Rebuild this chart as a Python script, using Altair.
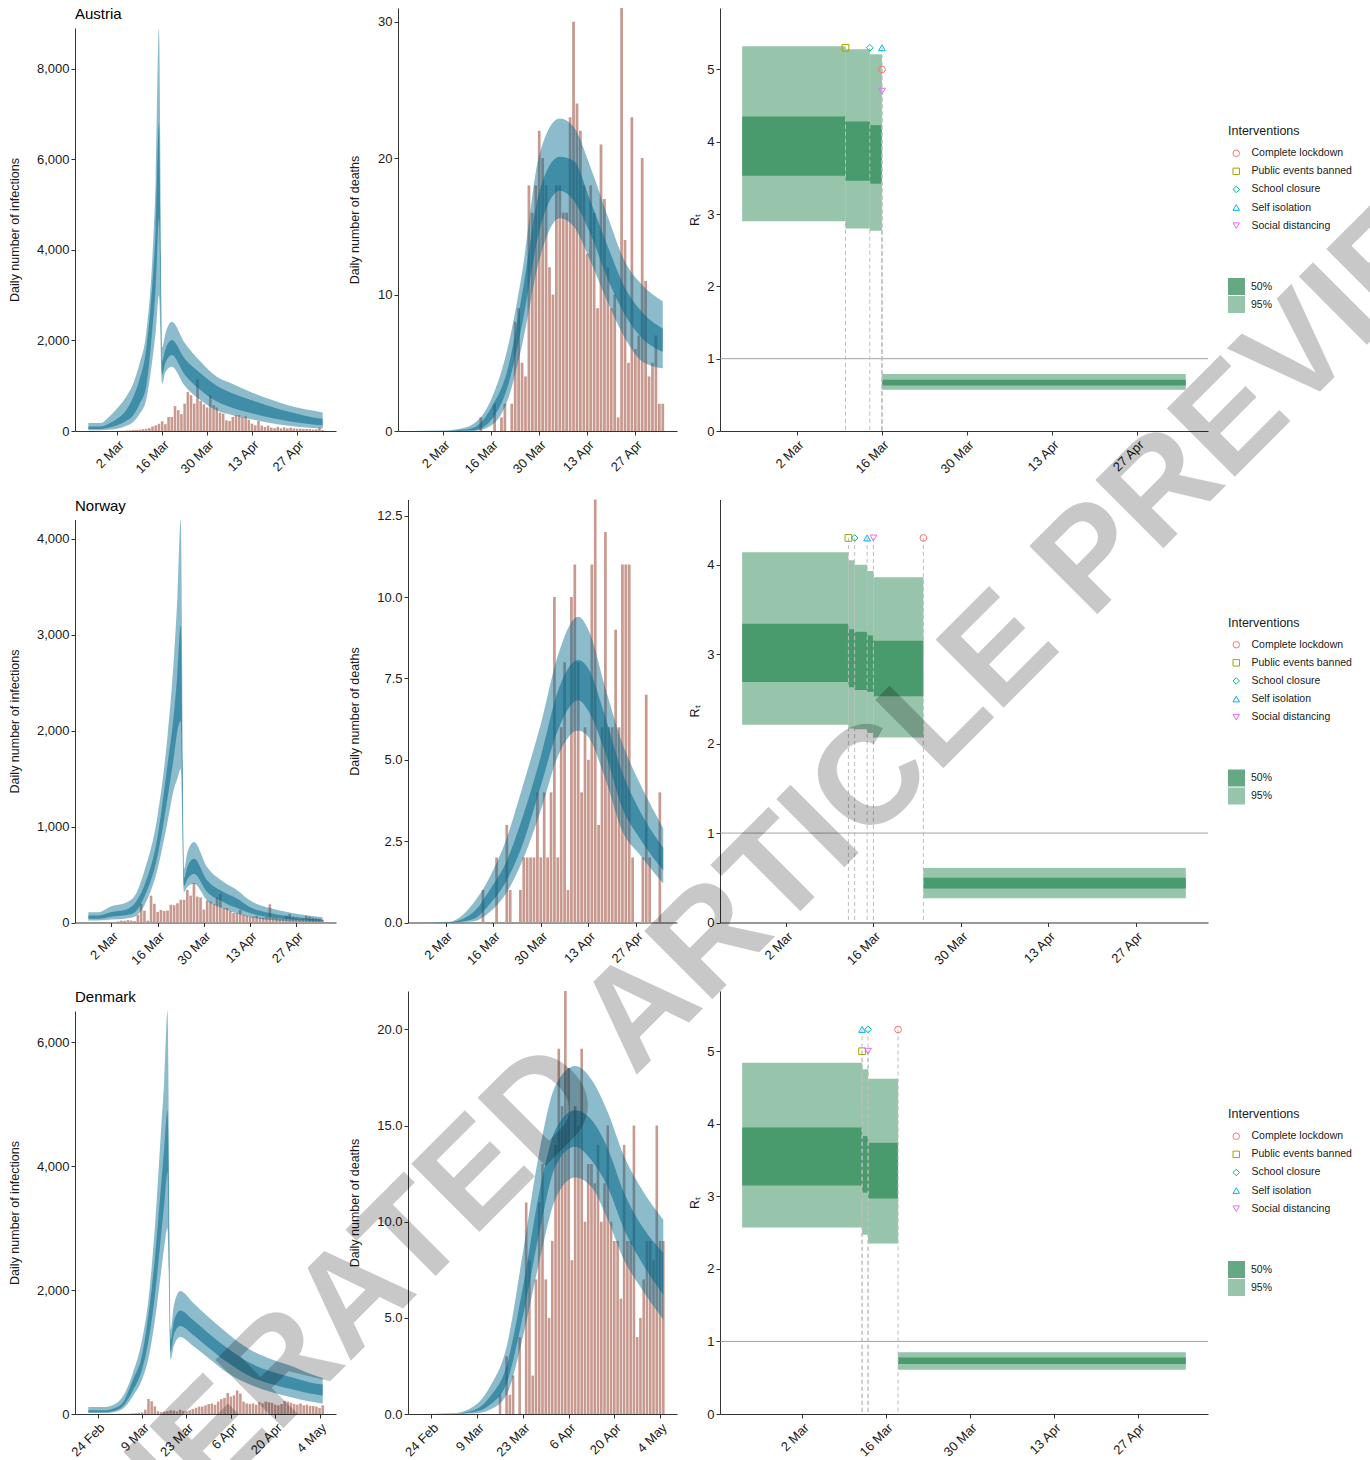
import altair as alt
import pandas as pd
from datetime import datetime, timedelta

W, H = 1370, 1460
FONT = "Liberation Sans"
TXT = "#1a1a1a"
AX = "#333333"
BAR_COLOR = "#C8998F"
BAND_COLOR = "#00688B"
GREEN = "#2E8B57"

IV_NAMES = ["Complete lockdown", "Public events banned", "School closure", "Self isolation", "Social distancing"]
IV_COLORS = ["#F8766D", "#A3A500", "#00BF7D", "#00B0F6", "#E76BF3"]
IV_SHAPES = ["circle", "square", "diamond", "triangle-up", "triangle-down"]

TICKS_A = ["2020-03-02", "2020-03-16", "2020-03-30", "2020-04-13", "2020-04-27"]
TICKS_D = ["2020-02-24", "2020-03-09", "2020-03-23", "2020-04-06", "2020-04-20", "2020-05-04"]

# ---------------- Austria ----------------
AUT_START, AUT_END = "2020-02-22", "2020-05-05"
AUT_CASES = [0, 0, 0, 1, 0, 1, 1, 1,
             2, 3, 5, 5, 10, 15, 20, 25,
             30, 40, 50, 65, 100, 125, 160, 215,
             150, 310, 310, 550, 460, 370, 605, 865,
             790, 605, 1140, 665, 590, 520, 790, 570,
             520, 406, 385, 236, 222, 310, 347, 347,
             310, 325, 251, 162, 125, 222, 118, 89,
             118, 74, 59, 89, 59, 81, 59, 74,
             59, 52, 52, 44, 44, 44, 30, 37,
             74, 22]
AUT_DEATHS = [0] * 20 + [1, 0, 0, 0, 2, 0, 1, 2, 0, 2,
                         8, 9, 5, 4, 18, 16, 18, 22, 20, 18,
                         12, 10, 18, 18, 16, 16, 23, 30, 24, 22,
                         18, 13, 18, 16, 9, 21, 17, 12, 9, 10,
                         1, 31, 14, 5, 23, 6, 7, 20, 11, 4,
                         5, 7, 2, 2]
AUT_INF_DAYS = [0, 4, 6, 9, 12, 14, 16, 18, 20, 21, 22, 23, 24, 26, 30, 35, 40, 45, 50, 55, 60, 65, 70, 73]
AUT_INF_LO95 = [15, 15, 25, 50, 120, 200, 380, 680, 1600, 2200, 3000, 1050, 1300, 1420, 1000, 680, 450, 350, 273, 200, 140, 95, 65, 52]
AUT_INF_LO50 = [45, 45, 65, 125, 230, 350, 600, 975, 2300, 3200, 4700, 1250, 1500, 1680, 1250, 900, 650, 510, 410, 320, 250, 190, 145, 125]
AUT_INF_HI50 = [100, 100, 150, 270, 480, 750, 1150, 1790, 3300, 4500, 6800, 1550, 1800, 2010, 1600, 1270, 1000, 830, 700, 580, 470, 380, 300, 273]
AUT_INF_HI95 = [175, 175, 280, 500, 780, 1050, 1500, 2150, 3900, 5600, 8900, 1850, 2150, 2415, 1950, 1530, 1200, 1040, 880, 740, 620, 520, 450, 406]
AUT_DTH_DAYS = [0, 9, 13, 18, 23, 28, 32, 37, 43, 47, 52, 57, 62, 67, 73]
AUT_DTH_LO95 = [0, 0, 0, 0, 0.4, 2.4, 6.3, 12.5, 15.6, 15.0, 12.4, 9.4, 6.8, 5.1, 4.6]
AUT_DTH_LO50 = [0, 0, 0.01, 0.05, 0.8, 3.4, 7.8, 14.6, 17.6, 16.9, 14.4, 11.1, 8.5, 6.8, 5.8]
AUT_DTH_HI50 = [0, 0.01, 0.05, 0.25, 1.7, 4.7, 10.0, 17.5, 20.1, 19.8, 16.8, 13.5, 10.5, 8.7, 7.5]
AUT_DTH_HI95 = [0, 0.02, 0.12, 0.55, 2.3, 6.3, 11.6, 20.2, 22.9, 22.3, 19.3, 15.7, 12.4, 10.7, 9.5]
AUT_RT_STARTS = ["2020-02-22", "2020-03-10", "2020-03-14", "2020-03-16"]
AUT_RT_ENDS = ["2020-03-10", "2020-03-14", "2020-03-16", "2020-05-05"]
AUT_RT_LO95 = [2.90, 2.80, 2.77, 0.57]
AUT_RT_HI95 = [5.32, 5.28, 5.21, 0.79]
AUT_RT_LO50 = [3.53, 3.46, 3.42, 0.63]
AUT_RT_HI50 = [4.35, 4.28, 4.23, 0.71]
AUT_IV = ["Public events banned", "School closure", "Self isolation", "Complete lockdown", "Social distancing"]
AUT_IV_DATES = ["2020-03-10", "2020-03-14", "2020-03-16", "2020-03-16", "2020-03-16"]
AUT_IV_Y = [5.3, 5.3, 5.3, 5.0, 4.7]

# ---------------- Norway ----------------
NOR_START, NOR_END = "2020-02-24", "2020-05-05"
NOR_CASES = [0, 0, 0, 1, 0, 1, 2, 3, 4,
             12, 20, 18, 25, 20, 15,
             80, 195, 122, 20, 280, 195, 110, 130, 120, 125,
             185, 180, 200, 237, 237, 340, 280, 411, 270, 260,
             135, 230, 220, 190, 260, 300, 150, 150, 120, 100,
             100, 130, 80, 70, 60, 60, 70, 50, 50, 60,
             190, 50, 50, 40, 45, 70, 90, 50, 40, 30,
             40, 70, 60, 50, 45, 40, 25]
NOR_DEATHS = [0] * 18 + [1, 0, 0, 0, 2, 0, 0, 3, 1, 0, 0, 1,
                         2, 2, 2, 2, 4, 2, 4, 2, 4, 10,
                         2, 6, 8, 1, 10, 11, 8, 4, 6, 5,
                         11, 13, 3, 6, 12, 6, 6, 9, 6, 11,
                         11, 11, 2, 0, 0, 2, 7, 2, 0, 0, 4, 0]
NOR_INF_DAYS = [0, 3, 7, 11, 14, 17, 21, 24, 26, 27, 28, 29, 30, 32, 36, 41, 45, 49, 55, 61, 66, 71]
NOR_INF_LO95 = [20, 20, 30, 40, 60, 180, 560, 1050, 1400, 1500, 1600, 320, 370, 404, 230, 143, 95, 56, 25, 12, 8, 5]
NOR_INF_LO50 = [38, 38, 60, 75, 105, 270, 700, 1300, 1750, 2000, 2100, 380, 450, 509, 317, 212, 150, 98, 55, 35, 22, 15]
NOR_INF_HI50 = [73, 73, 110, 130, 195, 390, 900, 1650, 2200, 2600, 3100, 460, 580, 665, 440, 317, 250, 160, 100, 65, 45, 30]
NOR_INF_HI95 = [108, 108, 170, 200, 275, 540, 1120, 1950, 2800, 3400, 4200, 560, 730, 840, 578, 422, 340, 230, 150, 105, 75, 56]
NOR_DTH_DAYS = [0, 8, 15, 20, 25, 30, 35, 40, 46, 49, 54, 59, 64, 71]
NOR_DTH_LO95 = [0, 0, 0.03, 0.32, 0.93, 2.0, 3.45, 5.1, 5.9, 5.7, 4.4, 2.8, 2.1, 1.2]
NOR_DTH_LO50 = [0, 0, 0.1, 0.57, 1.3, 2.5, 4.2, 5.9, 6.83, 6.5, 5.2, 3.5, 2.6, 1.6]
NOR_DTH_HI50 = [0, 0.01, 0.3, 1.0, 1.9, 3.35, 5.1, 7.1, 8.07, 7.8, 6.3, 4.6, 3.45, 2.3]
NOR_DTH_HI95 = [0, 0.02, 0.57, 1.4, 2.6, 4.3, 6.1, 8.2, 9.4, 9.0, 7.2, 5.5, 4.3, 2.9]
NOR_RT_STARTS = ["2020-02-24", "2020-03-12", "2020-03-13", "2020-03-15", "2020-03-16", "2020-03-24"]
NOR_RT_ENDS = ["2020-03-12", "2020-03-13", "2020-03-15", "2020-03-16", "2020-03-24", "2020-05-05"]
NOR_RT_LO95 = [2.21, 2.17, 2.16, 2.12, 2.07, 0.27]
NOR_RT_HI95 = [4.14, 4.05, 4.00, 3.93, 3.86, 0.61]
NOR_RT_LO50 = [2.69, 2.63, 2.60, 2.58, 2.53, 0.38]
NOR_RT_HI50 = [3.34, 3.28, 3.25, 3.21, 3.15, 0.50]
NOR_IV = ["Public events banned", "School closure", "Self isolation", "Social distancing", "Complete lockdown"]
NOR_IV_DATES = ["2020-03-12", "2020-03-13", "2020-03-15", "2020-03-16", "2020-03-24"]
NOR_IV_Y = [4.3, 4.3, 4.3, 4.3, 4.3]

# ---------------- Denmark ----------------
DNK_START, DNK_END = "2020-02-21", "2020-05-05"
DNK_CASES = [0, 0, 0, 0, 0, 0, 1, 1, 1, 2, 3, 4, 4, 5, 10, 15, 20,
             25, 70, 243, 205, 124, 43, 30, 35, 45, 60,
             55, 40, 70, 50, 45, 60, 80, 100, 120, 120,
             140, 160, 170, 150, 200, 240, 260, 340, 280, 300,
             380, 330, 200, 170, 160, 170, 150, 190, 170, 200,
             190, 180, 150, 140, 160, 210, 200, 180, 160, 150,
             170, 140, 150, 130, 130, 120, 100, 140]
DNK_DEATHS = [0] * 24 + [1, 0, 3, 1, 2, 0, 4, 0, 11, 8,
                         2, 7, 11, 13, 7, 5, 9, 14, 19, 16,
                         22, 18, 8, 16, 15, 19, 10, 13, 13, 12,
                         14, 10, 12, 15, 10, 9, 9, 6, 14, 9,
                         9, 15, 4, 5, 7, 9, 9, 8, 15, 9, 9]
DNK_INF_DAYS = [0, 5, 8, 11, 14, 17, 19, 21, 23, 24, 25, 26, 27, 29, 33, 38, 44, 51, 58, 65, 70, 74]
DNK_INF_LO95 = [16, 16, 30, 90, 280, 560, 900, 1500, 2300, 2700, 3000, 880, 1100, 1240, 1100, 900, 660, 474, 350, 260, 200, 167]
DNK_INF_LO50 = [27, 27, 50, 130, 370, 720, 1180, 1900, 2900, 3400, 3900, 1000, 1280, 1418, 1280, 1070, 830, 609, 480, 390, 330, 296]
DNK_INF_HI50 = [60, 60, 90, 190, 540, 960, 1600, 2500, 3700, 4300, 4900, 1200, 1500, 1671, 1520, 1300, 1060, 825, 680, 580, 510, 474]
DNK_INF_HI95 = [113, 113, 150, 290, 650, 1200, 1850, 3000, 4600, 5400, 6500, 1360, 1750, 1984, 1800, 1560, 1300, 1040, 880, 760, 650, 582]
DNK_DTH_DAYS = [0, 9, 16, 21, 26, 31, 36, 41, 47, 52, 57, 62, 67, 74]
DNK_DTH_LO95 = [0, 0, 0.02, 0.23, 1.0, 4.0, 7.9, 11.2, 12.3, 11.8, 10.1, 8.0, 6.6, 4.9]
DNK_DTH_LO50 = [0, 0, 0.1, 0.49, 1.6, 5.1, 9.4, 12.9, 13.9, 13.2, 11.8, 9.6, 8.0, 6.2]
DNK_DTH_HI50 = [0, 0.01, 0.2, 0.92, 2.5, 6.6, 11.5, 14.8, 15.8, 15.3, 13.8, 11.5, 9.9, 8.4]
DNK_DTH_HI95 = [0, 0.02, 0.4, 1.44, 3.5, 8.4, 13.6, 17.1, 18.1, 17.4, 15.7, 13.4, 11.8, 10.1]
DNK_RT_STARTS = ["2020-02-21", "2020-03-12", "2020-03-13", "2020-03-18"]
DNK_RT_ENDS = ["2020-03-12", "2020-03-13", "2020-03-18", "2020-05-05"]
DNK_RT_LO95 = [2.57, 2.47, 2.35, 0.61]
DNK_RT_HI95 = [4.84, 4.75, 4.62, 0.85]
DNK_RT_LO50 = [3.15, 3.05, 2.97, 0.69]
DNK_RT_HI50 = [3.95, 3.83, 3.74, 0.78]
DNK_IV = ["Self isolation", "Public events banned", "School closure", "Social distancing", "Complete lockdown"]
DNK_IV_DATES = ["2020-03-12", "2020-03-12", "2020-03-13", "2020-03-13", "2020-03-18"]
DNK_IV_Y = [5.3, 5.0, 5.3, 5.0, 5.3]

WATERMARK = "GENERATED ARTICLE PREVIEW"


# ---------------- helpers ----------------
def iso(d):
    return d.strftime("%Y-%m-%dT%H:%M:%S")


def pdt(s):
    return datetime.fromisoformat(s)


def adt(d):
    return alt.DateTime(year=d.year, month=d.month, date=d.day, hours=d.hour, minutes=d.minute)


def x_axis(ypix, ticks):
    return alt.Axis(orient="bottom", offset=ypix - H, values=[adt(pdt(t)) for t in ticks],
                    format="%-d %b", title=None, labelAngle=315, labelAlign="right",
                    labelBaseline="top", labelFont=FONT, labelFontSize=13, labelColor=TXT,
                    labelPadding=3, labelFlush=False, labelOverlap=False, tickSize=4,
                    tickColor=AX, tickWidth=1, domainColor=AX, domainWidth=1, grid=False)


def y_axis(xpix, yr, vals, fmt, title, tx):
    return alt.Axis(orient="left", offset=-xpix, values=vals, format=fmt, title=title,
                    titleX=tx, titleY=(yr[0] + yr[1]) / 2, titleAngle=270,
                    titleBaseline="bottom", titleAlign="center", titleFont=FONT,
                    titleFontSize=12.5, titleFontWeight="normal", titleColor=TXT,
                    labelFont=FONT, labelFontSize=13, labelColor=TXT, labelPadding=2,
                    labelFlush=False, labelOverlap=False, tickSize=4, tickColor=AX,
                    tickWidth=1, domainColor=AX, domainWidth=1, grid=False)


def count_panel(start, counts, bdays, lo95, lo50, hi50, hi95, xr, yr, ymax,
                yvals, yfmt, ytitle, tx, ticks):
    s0 = pdt(start)
    n = len(counts)
    bars = pd.DataFrame({
        "x0": [iso(s0 + timedelta(days=i - 0.4)) for i in range(n)],
        "x1": [iso(s0 + timedelta(days=i + 0.4)) for i in range(n)],
        "v": counts})
    band = pd.DataFrame({"d": [iso(s0 + timedelta(days=d)) for d in bdays],
                         "lo95": lo95, "lo50": lo50, "hi50": hi50, "hi95": hi95})
    pad = 0.05 * (n - 1 + 0.9)
    d_lo = s0 - timedelta(days=0.45 + pad)
    d_hi = s0 + timedelta(days=n - 1 + 0.45 + pad)
    xs = alt.Scale(domain=[adt(d_lo), adt(d_hi)], range=[xr[0], xr[1]], nice=False)
    ys = alt.Scale(domain=[0, ymax], range=[yr[1], yr[0]], nice=False)
    xa = x_axis(yr[1], ticks)
    ya = y_axis(xr[0], yr, yvals, yfmt, ytitle, tx)
    b = alt.Chart(bars).mark_bar(color=BAR_COLOR).encode(
        x=alt.X("x0:T", scale=xs, axis=xa), x2="x1:T",
        y=alt.Y("v:Q", scale=ys, axis=ya), y2=alt.datum(0))
    a95 = alt.Chart(band).mark_area(color=BAND_COLOR, opacity=0.45, interpolate="monotone").encode(
        x=alt.X("d:T", scale=xs, axis=xa),
        y=alt.Y("lo95:Q", scale=ys, axis=ya), y2="hi95:Q")
    a50 = alt.Chart(band).mark_area(color=BAND_COLOR, opacity=0.55, interpolate="monotone").encode(
        x=alt.X("d:T", scale=xs, axis=xa),
        y=alt.Y("lo50:Q", scale=ys, axis=ya), y2="hi50:Q")
    return alt.layer(b, a95, a50)


def rt_panel(start, end, ss, ee, lo95, hi95, lo50, hi50, ivn, ivd, ivy,
             xr, yr, ymax, yvals, tx, ticks, leg1y, leg2y):
    s0, e0 = pdt(start), pdt(end)
    pad = 0.05 * (e0 - s0).days
    d_lo = s0 - timedelta(days=pad)
    d_hi = e0 + timedelta(days=pad)
    xs = alt.Scale(domain=[adt(d_lo), adt(d_hi)], range=[xr[0], xr[1]], nice=False)
    ys = alt.Scale(domain=[0, ymax], range=[yr[1], yr[0]], nice=False)
    xa = x_axis(yr[1], ticks)
    ya = y_axis(xr[0], yr, yvals, "d", "Rₜ", tx)
    k = len(ss)
    rects = pd.DataFrame({
        "s": [iso(pdt(v)) for v in ss] * 2,
        "e": [iso(pdt(v)) for v in ee] * 2,
        "lo": lo95 + lo50, "hi": hi95 + hi50,
        "level": ["95%"] * k + ["50%"] * k})
    iv = pd.DataFrame({"d": [iso(pdt(v)) for v in ivd], "y": ivy, "iv": ivn})
    one = pd.DataFrame({"a": [iso(d_lo)], "b": [iso(d_hi)], "y": [1]})
    leg_iv = alt.Legend(title="Interventions", orient="none", legendX=1228, legendY=leg1y,
                        titleFont=FONT, titleFontSize=12.5, titleFontWeight="normal",
                        titleColor=TXT, titlePadding=10.5, labelFont=FONT, labelFontSize=10.5,
                        labelColor=TXT, symbolSize=42, symbolStrokeWidth=1, rowPadding=7.1,
                        symbolOffset=3, labelOffset=10, padding=0)
    leg_ci = alt.Legend(title=None, orient="none", legendX=1228, legendY=leg2y,
                        symbolType="square", symbolSize=289, symbolStrokeWidth=0,
                        labelFont=FONT, labelFontSize=10.5, labelColor=TXT, rowPadding=1,
                        labelOffset=6, padding=0)
    r = alt.Chart(rects).mark_rect(color=GREEN).encode(
        x=alt.X("s:T", scale=xs, axis=xa), x2="e:T",
        y=alt.Y("lo:Q", scale=ys, axis=ya), y2="hi:Q",
        opacity=alt.Opacity("level:N", scale=alt.Scale(domain=["50%", "95%"], range=[0.74, 0.5]),
                            legend=leg_ci))
    h = alt.Chart(one).mark_rule(color="#8a8a8a", strokeWidth=0.8).encode(
        x=alt.X("a:T", scale=xs, axis=xa), x2="b:T",
        y=alt.Y("y:Q", scale=ys, axis=ya))
    v = alt.Chart(iv).mark_rule(color="#bdbdbd", strokeDash=[4, 3], strokeWidth=1).encode(
        x=alt.X("d:T", scale=xs, axis=xa),
        y=alt.Y("y:Q", scale=ys, axis=ya), y2=alt.datum(0))
    p = alt.Chart(iv).mark_point(filled=False, size=45, strokeWidth=1, opacity=1).encode(
        x=alt.X("d:T", scale=xs, axis=xa),
        y=alt.Y("y:Q", scale=ys, axis=ya),
        color=alt.Color("iv:N", scale=alt.Scale(domain=IV_NAMES, range=IV_COLORS), legend=leg_iv),
        shape=alt.Shape("iv:N", scale=alt.Scale(domain=IV_NAMES, range=IV_SHAPES), legend=leg_iv))
    return alt.layer(r, h, v, p)


ROW = [0, 491.5, 983]
C1 = (75, 336)
C3 = (720, 1208)

panels = []
countries = [
    dict(name="Austria", start=AUT_START, end=AUT_END, cases=AUT_CASES, deaths=AUT_DEATHS,
         inf=(AUT_INF_DAYS, AUT_INF_LO95, AUT_INF_LO50, AUT_INF_HI50, AUT_INF_HI95),
         dth=(AUT_DTH_DAYS, AUT_DTH_LO95, AUT_DTH_LO50, AUT_DTH_HI50, AUT_DTH_HI95),
         rt=(AUT_RT_STARTS, AUT_RT_ENDS, AUT_RT_LO95, AUT_RT_HI95, AUT_RT_LO50, AUT_RT_HI50),
         iv=(AUT_IV, AUT_IV_DATES, AUT_IV_Y),
         infmax=8900, infvals=[0, 2000, 4000, 6000, 8000],
         dthmax=31, dthvals=[0, 10, 20, 30], dthfmt="d",
         rtmax=5.85, rtvals=[0, 1, 2, 3, 4, 5], c2=(398, 677), ticks=TICKS_A),
    dict(name="Norway", start=NOR_START, end=NOR_END, cases=NOR_CASES, deaths=NOR_DEATHS,
         inf=(NOR_INF_DAYS, NOR_INF_LO95, NOR_INF_LO50, NOR_INF_HI50, NOR_INF_HI95),
         dth=(NOR_DTH_DAYS, NOR_DTH_LO95, NOR_DTH_LO50, NOR_DTH_HI50, NOR_DTH_HI95),
         rt=(NOR_RT_STARTS, NOR_RT_ENDS, NOR_RT_LO95, NOR_RT_HI95, NOR_RT_LO50, NOR_RT_HI50),
         iv=(NOR_IV, NOR_IV_DATES, NOR_IV_Y),
         infmax=4200, infvals=[0, 1000, 2000, 3000, 4000],
         dthmax=13, dthvals=[0, 2.5, 5, 7.5, 10, 12.5], dthfmt=".1f",
         rtmax=4.73, rtvals=[0, 1, 2, 3, 4], c2=(408, 677), ticks=TICKS_A),
    dict(name="Denmark", start=DNK_START, end=DNK_END, cases=DNK_CASES, deaths=DNK_DEATHS,
         inf=(DNK_INF_DAYS, DNK_INF_LO95, DNK_INF_LO50, DNK_INF_HI50, DNK_INF_HI95),
         dth=(DNK_DTH_DAYS, DNK_DTH_LO95, DNK_DTH_LO50, DNK_DTH_HI50, DNK_DTH_HI95),
         rt=(DNK_RT_STARTS, DNK_RT_ENDS, DNK_RT_LO95, DNK_RT_HI95, DNK_RT_LO50, DNK_RT_HI50),
         iv=(DNK_IV, DNK_IV_DATES, DNK_IV_Y),
         infmax=6500, infvals=[0, 2000, 4000, 6000],
         dthmax=22, dthvals=[0, 5, 10, 15, 20], dthfmt=".1f",
         rtmax=5.83, rtvals=[0, 1, 2, 3, 4, 5], c2=(408, 677), ticks=TICKS_D),
]

for k, c in enumerate(countries):
    r0 = ROW[k]
    y1 = (28 + r0, 431 + r0)
    y2 = (8 + r0, 431 + r0)
    panels.append(count_panel(c["start"], c["cases"], *c["inf"], C1, y1, c["infmax"],
                              c["infvals"], ",d", "Daily number of infections", -54, c["ticks"]))
    panels.append(count_panel(c["start"], c["deaths"], *c["dth"], c["c2"], y2, c["dthmax"],
                              c["dthvals"], c["dthfmt"], "Daily number of deaths",
                              361 - c["c2"][0], c["ticks"]))
    panels.append(rt_panel(c["start"], c["end"], *c["rt"], *c["iv"], C3, y2, c["rtmax"],
                           c["rtvals"], -19, TICKS_A, 125 + r0, 278 + r0))
    panels.append(alt.Chart(pd.DataFrame({"t": [c["name"]]})).mark_text(
        align="left", baseline="alphabetic", font=FONT, fontSize=15, color="#000000").encode(
        text="t:N", x=alt.value(75), y=alt.value(19 + r0)))

wm = alt.Chart(pd.DataFrame({"t": [WATERMARK]})).mark_text(
    angle=315, font=FONT, fontSize=140, fontWeight="bold", color="#000000", opacity=0.21,
    align="center", baseline="middle").encode(
    text="t:N", x=alt.value(742), y=alt.value(910))

chart = alt.layer(*panels, wm).resolve_scale(
    x="independent", y="independent", color="independent",
    shape="independent", opacity="independent"
).properties(
    width=W, height=H, autosize=alt.AutoSizeParams(type="none"), padding=0
).configure_view(stroke=None)

chart.save("out.html", embed_options={"renderer": "svg", "actions": False})
